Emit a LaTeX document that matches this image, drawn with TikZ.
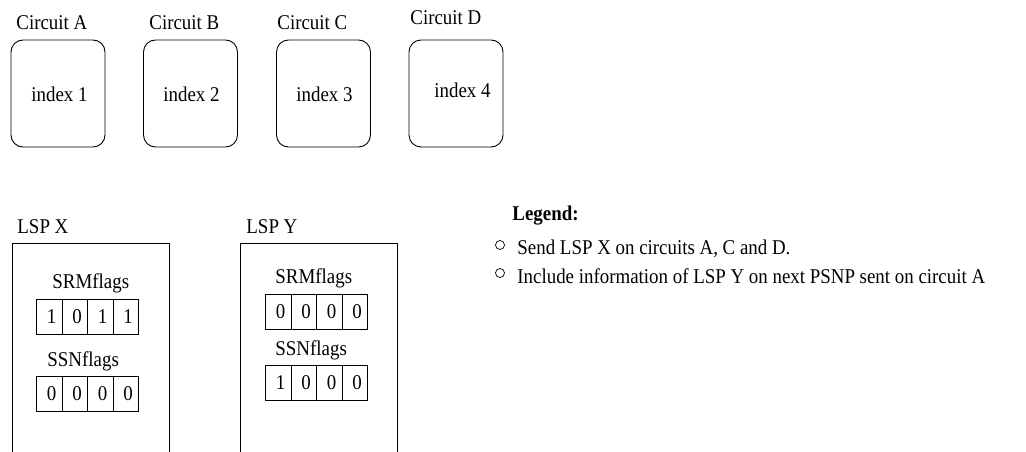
\documentclass[tikz,border=0pt]{standalone}
\usepackage{fontspec}
\setmainfont{Liberation Serif}[FakeStretch=0.9]
\begin{document}
\begin{tikzpicture}[x=1pt,y=-1pt,font=\fontsize{21}{23}\selectfont,line width=0.9pt,
  circbox/.style={draw,rounded corners=12pt,minimum width=94pt,minimum height=107pt,inner sep=0pt},
  lbl/.style={anchor=base west,inner sep=0pt},
  cell/.style={draw,minimum width=25.5pt,minimum height=35pt,inner sep=0pt,anchor=west},
  bul/.style={draw,circle,minimum size=9pt,inner sep=0pt,line width=0.7pt}]
\useasboundingbox (0,0) rectangle (1026,452);
% circuits
\node[circbox] (cA) at (58,93.5) {};
\node[circbox] (cB) at (190.5,93.5) {};
\node[circbox] (cC) at (323.5,93.5) {};
\node[circbox] (cD) at (456,93.5) {};
\node[lbl] (tA) at (16,30) {Circuit A};
\node[lbl] (tB) at (149,30) {Circuit B};
\node[lbl] (tC) at (277,30) {Circuit C};
\node[lbl] (tD) at (410,25) {Circuit D};
\node[lbl] (iA) at (31,101.5) {index 1};
\node[lbl] (iB) at (163,101.5) {index 2};
\node[lbl] (iC) at (296,101.5) {index 3};
\node[lbl] (iD) at (434,97) {index 4};
% LSP X
\coordinate (x1) at (12,452); \coordinate (x2) at (12,243);
\coordinate (x3) at (169,243); \coordinate (x4) at (169,452);
\draw (x1) -- (x2) -- (x3) -- (x4);
\node[lbl] (lx) at (17,233) {LSP X};
\node[lbl] (xsrm) at (52,288) {SRMflags};
\node[lbl] (xssn) at (47,366) {SSNflags};
\foreach \v [count=\i from 0] in {1,0,1,1}
  \node[cell] (xr\i) at (36+25.5*\i,316.5) {\hspace{5pt}\raisebox{-3pt}{\v}};
\foreach \v [count=\i from 0] in {0,0,0,0}
  \node[cell] (xs\i) at (36+25.5*\i,393.5) {\hspace{5pt}\raisebox{-3pt}{\v}};
% LSP Y
\coordinate (y1) at (240,452); \coordinate (y2) at (240,243);
\coordinate (y3) at (397,243); \coordinate (y4) at (397,452);
\draw (y1) -- (y2) -- (y3) -- (y4);
\node[lbl] (ly) at (246,233) {LSP Y};
\node[lbl] (ysrm) at (275,283) {SRMflags};
\node[lbl] (yssn) at (275,355) {SSNflags};
\foreach \v [count=\i from 0] in {0,0,0,0}
  \node[cell] (yr\i) at (265+25.5*\i,311.5) {\hspace{5pt}\raisebox{-3pt}{\v}};
\foreach \v [count=\i from 0] in {1,0,0,0}
  \node[cell] (ys\i) at (265+25.5*\i,383) {\hspace{5pt}\raisebox{-3pt}{\v}};
% legend
\node[lbl] (leg) at (512,220) {\textbf{Legend:}};
\node[bul] (b1) at (500,245) {};
\node[bul] (b2) at (500,273) {};
\node[lbl] (l1) at (517,254) {Send LSP X on circuits A, C and D.};
\node[lbl] (l2) at (517,283) {Include information of LSP Y on next PSNP sent on circuit A};
\end{tikzpicture}
\end{document}
